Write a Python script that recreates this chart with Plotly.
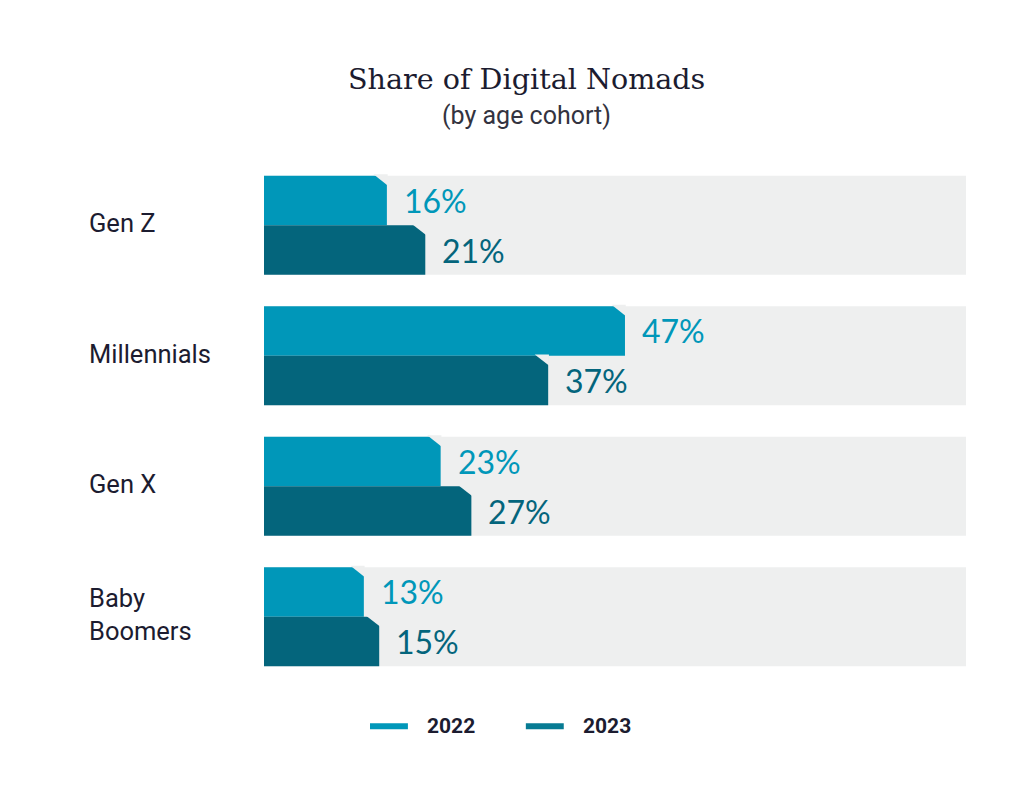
import plotly.graph_objects as go

categories = ["Gen Z", "Millennials", "Gen X", "Baby<br>Boomers"]
years = ["2022", "2023"]
values_2022 = [16, 47, 23, 13]
values_2023 = [21, 37, 27, 15]

C22 = "#0097b9"
C23 = "#04657c"
C23_LEG = "#077b93"
BAND = "#eeefef"
DARK = "#1c1c30"

XMAX = 91.4
BAND_H = 0.76
BAR_W = BAND_H / 2
CUT_X = 1.75
CUT_Y = 0.075

pos = list(range(len(categories)))
y22 = [p - BAR_W / 2 for p in pos]
y23 = [p + BAR_W / 2 for p in pos]

fig = go.Figure()
fig.add_trace(go.Bar(x=values_2022, y=y22, orientation="h", width=BAR_W,
                     marker=dict(color=C22, line=dict(width=0)), name=years[0],
                     showlegend=False, hoverinfo="x"))
fig.add_trace(go.Bar(x=values_2023, y=y23, orientation="h", width=BAR_W,
                     marker=dict(color=C23, line=dict(width=0)), name=years[1],
                     showlegend=False, hoverinfo="x"))

shapes = []
annotations = []
for p in pos:
    shapes.append(dict(type="rect", xref="paper", yref="y", x0=0, x1=1,
                       y0=p - BAND_H / 2, y1=p + BAND_H / 2,
                       fillcolor=BAND, line=dict(width=0), layer="below"))
for vals, ys, col in [(values_2022, y22, C22), (values_2023, y23, C23)]:
    for v, yc in zip(vals, ys):
        top = yc - BAR_W / 2
        shapes.append(dict(type="path", xref="x", yref="y",
                           path=f"M {v - CUT_X},{top - 0.01} L {v + 0.1},{top - 0.01} "
                                f"L {v + 0.1},{top + CUT_Y} Z",
                           fillcolor=BAND, line=dict(width=0), layer="above"))
        annotations.append(dict(x=v, y=yc, xref="x", yref="y", text=f"{v}%",
                                showarrow=False, xanchor="left", xshift=15,
                                font=dict(family="Lato", size=32, color=col)))

for p, c in zip(pos, categories):
    annotations.append(dict(x=-0.252, y=p, xref="paper", yref="y", text=c,
                            showarrow=False, xanchor="left", align="left",
                            yshift=2,
                            font=dict(family="Roboto", size=25.5, color=DARK)))

# legend (manual)
LEG_Y = -0.085
for x0, yr, col in [(0.151, years[0], C22), (0.373, years[1], C23_LEG)]:
    shapes.append(dict(type="line", xref="paper", yref="paper",
                       x0=x0, x1=x0 + 0.054, y0=LEG_Y, y1=LEG_Y,
                       line=dict(color=col, width=6)))
    annotations.append(dict(x=x0 + 0.078, y=LEG_Y, xref="paper", yref="paper",
                            text=f"<b>{yr}</b>", showarrow=False,
                            xanchor="left", yanchor="middle",
                            font=dict(family="Roboto", size=21, color=DARK)))

annotations.append(dict(x=0.3746, y=1.156, xref="paper", yref="paper",
                        text="Share of Digital Nomads", showarrow=False,
                        xanchor="center", yanchor="middle",
                        font=dict(family="DejaVu Serif", size=28.6, color=DARK)))
annotations.append(dict(x=0.3746, y=1.085, xref="paper", yref="paper",
                        text="(by age cohort)", showarrow=False,
                        xanchor="center", yanchor="middle",
                        font=dict(family="Roboto", size=25, color="#333340")))

fig.update_layout(
    width=1024, height=790,
    margin=dict(l=256, r=66, t=152, b=116),
    paper_bgcolor="white", plot_bgcolor="white",
    barmode="overlay", showlegend=False,
    xaxis=dict(range=[0, XMAX], visible=False, fixedrange=True),
    yaxis=dict(range=[3.5, -0.5], visible=False, fixedrange=True),
    shapes=shapes, annotations=annotations,
)

fig.write_html("out.html")
